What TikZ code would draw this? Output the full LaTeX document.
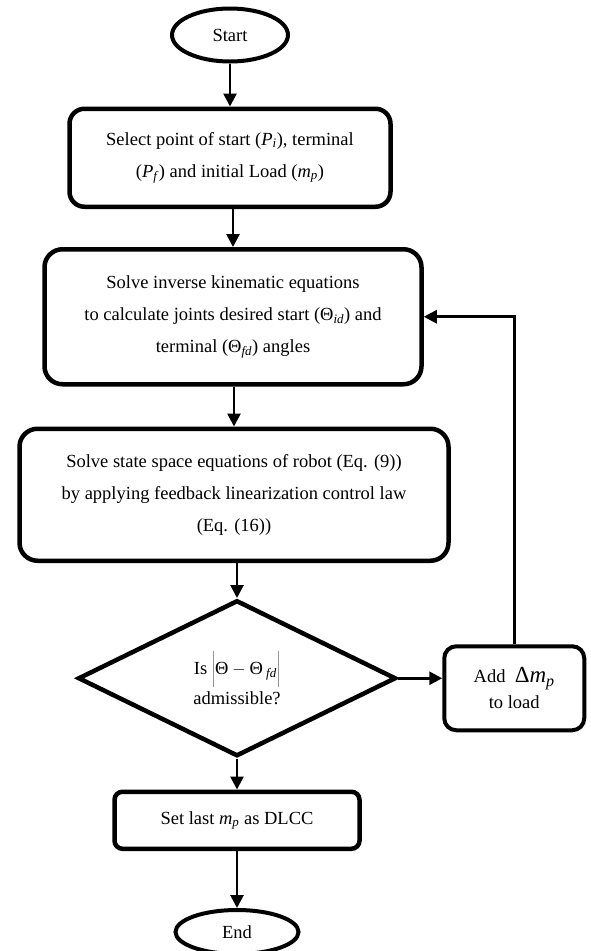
\documentclass[tikz,border=0pt]{standalone}
\usepackage{fontspec}
\setmainfont{Liberation Serif}
\usetikzlibrary{positioning,arrows.meta,shapes.geometric}
\newcommand{\var}[2]{\textit{#1}\textsubscript{\textit{#2}}}

\begin{document}
\begin{tikzpicture}[x=1pt,y=-1pt,node distance=45pt,
  every node/.style={font=\fontsize{18.5}{32}\selectfont,align=center},
  term/.style={draw,ellipse,line width=4pt,inner sep=0pt},
  box/.style={draw,line width=4.5pt,rounded corners=18pt},
  decision/.style={draw,diamond,aspect=2.08,line width=4.5pt,inner sep=0pt,minimum width=318pt,minimum height=156pt},
  arr/.style={-{Triangle[length=13pt,width=13pt]},line width=2.7pt}]
  \useasboundingbox (0,0) rectangle (590,951);
  \node[term,minimum width=116pt,minimum height=53pt] (start) at (230,35) {Start};
  \node[box,rounded corners=15pt,below=43pt of start,minimum width=321pt,minimum height=98pt] (select) {Select point of start (\var{P}{i}), terminal\\(\var{P}{f}) and initial Load (\var{m}{p})};
  \node[box,below=38pt of select,xshift=3pt,minimum width=377pt,minimum height=135pt] (solve) {Solve inverse kinematic equations\\to calculate joints desired start (Θ\textsubscript{\textit{id}}) and\\terminal (Θ\textsubscript{\textit{fd}}) angles};
  \node[box,below=40pt of solve,xshift=1pt,minimum width=429pt,minimum height=132pt] (state) {Solve state space equations of robot (Eq. (9))\\by applying feedback linearization control law\\(Eq. (16))};
  \node[decision,below=35pt of state,xshift=3pt] (check) {Is $\left|\rule[-10pt]{0pt}{32pt}\mbox{Θ} - \mbox{Θ\,}_{\mbox{\fontsize{13}{13}\selectfont\itshape fd}}\right|$\\[-2pt]admissible?};
  \node[box,rounded corners=12pt,line width=4pt,right=44pt of check,yshift=-10pt,minimum width=140pt,minimum height=84pt,font=\fontsize{18.5}{26}\selectfont] (add) {Add\ \ {\fontsize{23}{26}\selectfont Δ\textit{m}\textsubscript{\textit{p}}}\\to load};
  \node[box,rounded corners=8pt,below=31pt of check,minimum width=245pt,minimum height=57pt] (last) {Set last \var{m}{p} as DLCC};
  \node[term,below=57pt of last,minimum width=123pt,minimum height=44pt] (end) {End};
  % main flow
  \draw[arr] (start) -- (select);
  \draw[arr] (select.south -| solve.north) -- (solve.north);
  \draw[arr] (solve.south -| state.north) -- (state.north);
  \draw[arr] (state.south -| check.north) -- (check.north);
  \draw[arr] (check) -- (last);
  \draw[arr] (last) -- (end);
  % loop back with more load
  \draw[arr] (check.east) -- (check.east -| add.west);
  \draw[arr] (add.north) |- (solve.east);
\end{tikzpicture}
\end{document}
